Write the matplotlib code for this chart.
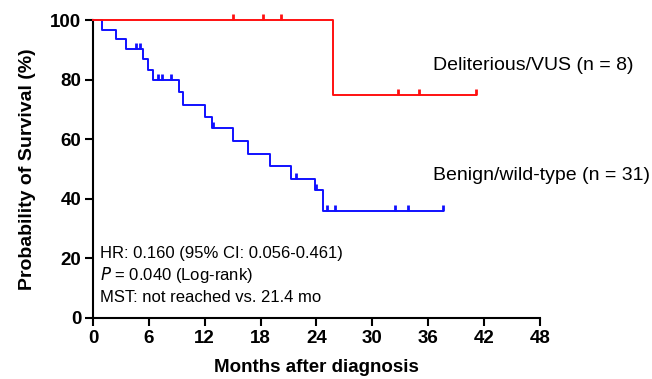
import numpy as np
import matplotlib
matplotlib.use("Agg")
import matplotlib.pyplot as plt

plt.rcParams['font.family'] = ['Liberation Sans', 'DejaVu Sans']

# step curves: (time in months, survival % after the step)
blue_t = [0, 1.0, 2.5, 3.5, 5.4, 5.9, 6.4, 9.2, 9.7, 12.0, 12.8, 15.0, 16.7, 19.0, 21.3, 23.8, 24.7, 37.6]
blue_s = [100, 96.8, 93.5, 90.3, 87.0, 83.4, 79.8, 75.7, 71.6, 67.6, 63.7, 59.4, 55.2, 51.0, 46.7, 42.8, 36.0, 36.0]
blue_cens = [4.6, 5.0, 7.0, 7.4, 8.4, 12.9, 21.8, 23.9, 25.1, 26.0, 32.4, 33.8, 37.6]

red_t = [0, 25.8, 41.1]
red_s = [100, 75.0, 75.0]
red_cens = [15.0, 18.3, 20.2, 32.8, 35.0, 41.1]

x_ticks = [0, 6, 12, 18, 24, 30, 36, 42, 48]
y_ticks = [0, 20, 40, 60, 80, 100]


def surv_at(times, surv, t):
    i = np.searchsorted(times, t, side='right') - 1
    return np.asarray(surv)[i]


fig = plt.figure(figsize=(6.52, 3.79), dpi=100)
ax = fig.add_axes([0.1426, 0.161, 0.6856, 0.786])

tick_marker = [(0, 0), (0, 1)]
for t, s, cens, col in [(blue_t, blue_s, blue_cens, '#1010ff'), (red_t, red_s, red_cens, '#ff1010')]:
    ax.step(t, s, where='post', color=col, lw=1.4, clip_on=False, zorder=3)
    cy = [surv_at(t, s, c) for c in cens]
    ax.plot(cens, cy, ls='none', marker=tick_marker, ms=9, mew=2,
            color=col, clip_on=False, zorder=3)

ax.set_xlim(0, 48)
ax.set_ylim(0, 100)
ax.set_xticks(x_ticks)
ax.set_yticks(y_ticks)
for side in ['top', 'right']:
    ax.spines[side].set_visible(False)
for side in ['left', 'bottom']:
    ax.spines[side].set_linewidth(1.5)
ax.tick_params(direction='out', length=5.5, width=1.5, labelsize=13.5, pad=3)
for lab in ax.get_xticklabels() + ax.get_yticklabels():
    lab.set_fontweight('bold')

ax.set_xlabel('Months after diagnosis', fontsize=13.5, fontweight='bold', labelpad=9)
ax.set_ylabel('Probability of Survival (%)', fontsize=14, fontweight='bold', labelpad=10)

ax.text(36.5, 84.6, 'Deliterious/VUS (n = 8)', fontsize=14, va='center', ha='left', clip_on=False)
ax.text(36.5, 47.7, 'Benign/wild-type (n = 31)', fontsize=14, va='center', ha='left', clip_on=False)

ax.text(0.75, 21.8, 'HR: 0.160 (95% CI: 0.056-0.461)', fontsize=12, va='center', ha='left')
ax.text(0.75, 14.4, r'$P$ = 0.040 (Log-rank)', fontsize=12, va='center', ha='left')
ax.text(0.75, 7.0, 'MST: not reached vs. 21.4 mo', fontsize=12, va='center', ha='left')

fig.savefig('out.png', dpi=100)
